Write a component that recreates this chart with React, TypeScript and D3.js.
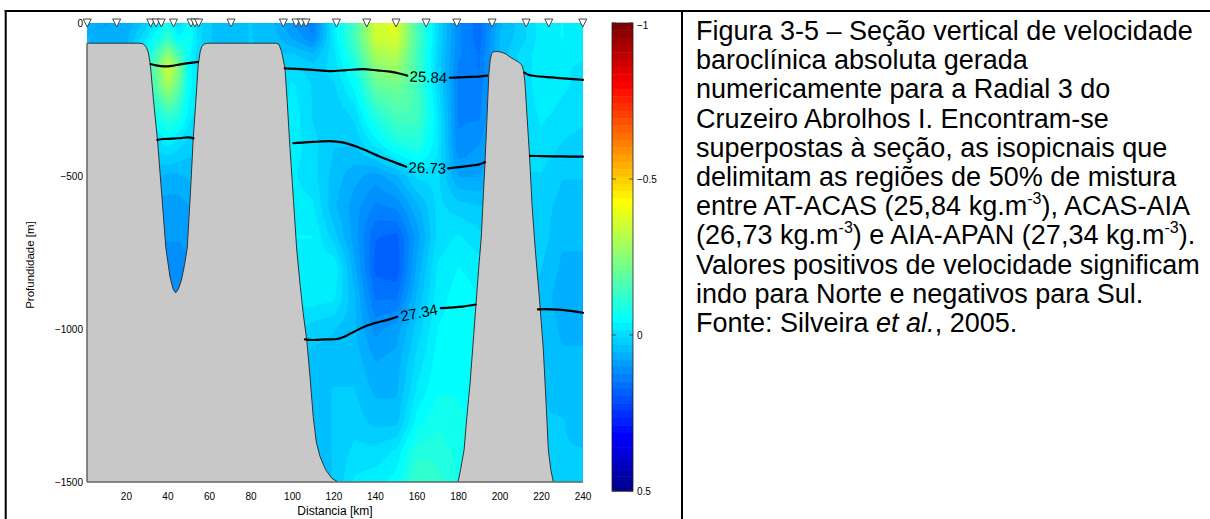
import React, { useMemo } from "react";
import * as d3 from "d3";

// ---- velocity section readings (m/s), rows = depth levels, columns = distance stations
const gridKm = [0, 10, 20, 30, 35, 40, 45, 50, 55, 60, 70, 80, 90, 100, 110, 120, 130, 140, 150, 160, 170, 180, 190, 200, 210, 220, 230, 240];
const gridDepth = [0, 50, 100, 150, 200, 300, 400, 500, 600, 700, 800, 900, 1000, 1100, 1200, 1300, 1400, 1500];
const velocity = [
  [0.06, 0.08, 0.07, 0.02, -0.02, -0.08, 0.01, -0.05, 0.0, 0.03, 0.04, 0.03, 0.05, 0.1, 0.14, -0.03, -0.15, -0.36, -0.38, -0.15, 0.0, 0.12, 0.16, 0.06, 0.02, -0.03, -0.04, -0.02],
  [0.05, 0.07, 0.06, -0.02, -0.07, -0.13, -0.05, -0.07, 0.0, 0.03, 0.04, 0.03, 0.04, 0.08, 0.12, -0.02, -0.15, -0.35, -0.37, -0.16, 0.0, 0.12, 0.16, 0.05, 0.02, -0.03, -0.04, -0.03],
  [0.05, 0.06, 0.05, -0.06, -0.15, -0.26, -0.15, -0.05, 0.0, 0.03, 0.03, 0.03, 0.03, 0.03, 0.05, -0.01, -0.12, -0.3, -0.32, -0.15, 0.01, 0.12, 0.15, 0.05, 0.0, -0.03, -0.03, -0.02],
  [0.05, 0.05, 0.05, -0.1, -0.22, -0.36, -0.25, -0.06, 0.0, 0.03, 0.03, 0.03, 0.02, 0.0, 0.02, 0.0, -0.08, -0.25, -0.28, -0.15, 0.01, 0.13, 0.15, 0.05, 0.0, -0.03, -0.02, -0.01],
  [0.05, 0.05, 0.05, -0.1, -0.2, -0.3, -0.2, -0.06, 0.0, 0.03, 0.03, 0.03, 0.02, -0.02, 0.01, 0.01, -0.05, -0.2, -0.22, -0.15, 0.0, 0.13, 0.14, 0.05, 0.0, -0.03, -0.02, -0.01],
  [0.05, 0.05, 0.05, -0.05, -0.08, -0.13, -0.1, -0.03, 0.0, 0.03, 0.03, 0.03, 0.02, -0.03, 0.01, 0.03, 0.0, -0.1, -0.16, -0.15, -0.02, 0.13, 0.13, 0.05, 0.0, -0.02, -0.01, 0.0],
  [0.05, 0.05, 0.05, 0.0, 0.0, -0.02, 0.0, 0.02, 0.02, 0.03, 0.03, 0.03, 0.02, -0.03, 0.0, 0.03, 0.03, -0.02, -0.08, -0.1, -0.02, 0.12, 0.1, 0.05, 0.0, -0.01, 0.01, 0.02],
  [0.05, 0.05, 0.05, 0.05, 0.05, 0.06, 0.06, 0.05, 0.03, 0.03, 0.03, 0.03, 0.02, -0.02, 0.0, 0.04, 0.07, 0.09, 0.06, 0.0, 0.0, 0.08, 0.08, 0.05, 0.01, 0.01, 0.03, 0.03],
  [0.05, 0.05, 0.05, 0.08, 0.09, 0.09, 0.09, 0.08, 0.05, 0.03, 0.03, 0.03, 0.02, -0.03, -0.02, 0.05, 0.09, 0.13, 0.12, 0.06, 0.0, 0.02, 0.03, 0.03, 0.02, 0.02, 0.04, 0.04],
  [0.05, 0.05, 0.05, 0.1, 0.1, 0.1, 0.1, 0.1, 0.05, 0.03, 0.03, 0.03, 0.02, -0.04, -0.04, 0.02, 0.09, 0.17, 0.18, 0.09, 0.0, -0.02, 0.0, 0.02, 0.02, 0.02, 0.05, 0.05],
  [0.05, 0.05, 0.05, 0.1, 0.11, 0.11, 0.11, 0.1, 0.05, 0.03, 0.03, 0.03, 0.02, -0.03, -0.02, -0.04, 0.07, 0.18, 0.19, 0.07, -0.02, -0.04, -0.03, 0.02, 0.02, 0.03, 0.06, 0.06],
  [0.05, 0.05, 0.05, 0.1, 0.11, 0.11, 0.11, 0.1, 0.05, 0.03, 0.03, 0.03, 0.02, -0.02, -0.03, -0.02, 0.05, 0.15, 0.15, 0.05, -0.03, -0.05, -0.04, 0.02, 0.03, 0.04, 0.07, 0.06],
  [0.05, 0.05, 0.05, 0.1, 0.1, 0.1, 0.1, 0.1, 0.05, 0.03, 0.03, 0.03, 0.02, 0.0, 0.02, 0.03, 0.05, 0.11, 0.09, 0.02, -0.04, -0.05, -0.04, 0.02, 0.03, 0.03, 0.06, 0.06],
  [0.05, 0.05, 0.05, 0.1, 0.1, 0.1, 0.1, 0.1, 0.05, 0.03, 0.03, 0.03, 0.02, 0.02, 0.04, 0.04, 0.04, 0.08, 0.07, 0.0, -0.05, -0.05, -0.04, 0.02, 0.03, 0.03, 0.05, 0.05],
  [0.05, 0.05, 0.05, 0.1, 0.1, 0.1, 0.1, 0.1, 0.05, 0.03, 0.03, 0.03, 0.02, 0.03, 0.04, 0.03, 0.03, 0.06, 0.06, -0.02, -0.06, -0.06, -0.05, 0.02, 0.03, 0.03, 0.04, 0.04],
  [0.05, 0.05, 0.05, 0.1, 0.1, 0.1, 0.1, 0.1, 0.05, 0.03, 0.03, 0.03, 0.02, 0.03, 0.04, 0.03, 0.02, 0.04, 0.04, -0.05, -0.08, -0.07, -0.05, 0.02, 0.03, 0.03, 0.03, 0.04],
  [0.05, 0.05, 0.05, 0.1, 0.1, 0.1, 0.1, 0.1, 0.05, 0.03, 0.03, 0.03, 0.02, 0.03, 0.04, 0.03, 0.0, 0.0, -0.02, -0.1, -0.1, -0.08, -0.05, 0.02, 0.03, 0.03, 0.03, 0.03],
  [0.05, 0.05, 0.05, 0.1, 0.1, 0.1, 0.1, 0.1, 0.05, 0.03, 0.03, 0.03, 0.02, 0.03, 0.04, 0.03, -0.02, -0.03, -0.05, -0.14, -0.12, -0.08, -0.05, 0.02, 0.03, 0.03, 0.02, 0.03],
];

// CTD stations along the section (km)
const stationKm = [1.1, 15.3, 31.7, 34.3, 36.8, 42.7, 51.1, 53.0, 54.8, 70.4, 95.6, 101.7, 104.3, 106.5, 121.2, 135.8, 149.9, 164.4, 179.2, 196.2, 212.6, 223.5, 239.9];

// bottom profile (km, depth m)
const bottomKm = [0, 26, 28, 29.5, 30.5, 31.5, 33, 35, 37, 39, 41, 42.5, 43.7, 45, 46.5, 48, 49.3, 50.8, 52.2, 53.5, 54.6, 55.5, 56.3, 57.5, 59, 92, 93.5, 94.8, 96.4, 97.5, 98.8, 100.5, 102, 103.6, 105.2, 106.9, 108.5, 110, 111.5, 113.3, 116, 119, 122, 123.5, 179, 179.8, 181, 182.7, 184, 185.6, 187, 188.5, 190, 191, 192, 192.8, 193.8, 194.6, 195.3, 196, 197, 199, 201, 203, 205, 207, 209, 210.5, 211.3, 212, 213, 214.2, 215.5, 217, 219, 220.9, 222.2, 223.3, 224.5, 225.7, 226.5, 240];
const bottomDepth = [66, 66, 68, 78, 95, 135, 250, 385, 560, 735, 830, 870, 882, 870, 840, 790, 735, 560, 376, 250, 137, 95, 77, 69, 66, 66, 70, 94, 148, 260, 408, 580, 735, 850, 950, 1036, 1160, 1286, 1370, 1417, 1460, 1488, 1500, 1512, 1512, 1500, 1460, 1395, 1290, 1177, 1050, 915, 780, 700, 560, 453, 300, 170, 120, 99, 94, 93, 96, 102, 112, 120, 128, 137, 155, 192, 300, 431, 600, 740, 900, 1068, 1240, 1395, 1460, 1500, 1512, 1512];

// isopycnals (km, depth m), split where the bottom or a label interrupts them
const iso2584 = [
  [[31.6, 134], [34, 138], [38, 142], [42, 140], [46, 135], [50, 131], [54.5, 127]],
  [[96.3, 148], [100, 149], [110, 153], [118, 157], [126, 154], [134, 151], [141, 155], [147, 159], [152, 166], [155.3, 172]],
  [[175.8, 179], [180, 178], [186, 176], [190, 175], [193.8, 172]],
  [[211.8, 162], [214, 170], [218, 174], [225, 178], [232, 182], [240, 186]],
];
const iso2673 = [
  [[34.9, 382], [38, 379], [42, 378], [46, 376], [50, 374], [52.3, 377]],
  [[100.4, 393], [106, 390], [112, 388], [118, 386], [124, 390], [130, 402], [136, 418], [142, 436], [148, 452], [154.8, 470]],
  [[175, 475], [180, 471], [186, 466], [190, 462], [192.8, 455]],
  [[214.4, 434], [220, 435], [230, 436], [240, 437]],
];
const iso2734 = [
  [[106, 1034], [110, 1036], [116, 1034], [122, 1032], [128, 1015], [134, 994], [140, 980], [146, 970], [150.5, 960]],
  [[171.5, 932], [176, 930], [182, 927], [188.3, 920]],
  [[218.3, 936], [222, 935], [228, 937], [234, 941], [240, 947]],
];
const isoLabels = [
  { text: "25.84", km: 165.5, depth: 176, from: [155.3, 172], to: [175.8, 179] },
  { text: "26.73", km: 165, depth: 473, from: [154.8, 470], to: [175, 475] },
  { text: "27.34", km: 161, depth: 946, from: [150.5, 960], to: [171.5, 932] },
];

const xTicks = [20, 40, 60, 80, 100, 120, 140, 160, 180, 200, 220, 240];
const yTicks = [0, -500, -1000, -1500];
const cbTicks = [-1, -0.5, 0, 0.5];

type Seg = { t: string; sup?: boolean; it?: boolean };
const captionLines: Seg[][] = [
  [{ t: "Figura 3-5 – Seção vertical de velocidade" }],
  [{ t: "baroclínica absoluta gerada" }],
  [{ t: "numericamente para a Radial 3 do" }],
  [{ t: "Cruzeiro Abrolhos I. Encontram-se" }],
  [{ t: "superpostas à seção, as isopicnais que" }],
  [{ t: "delimitam as regiões de 50% de mistura" }],
  [{ t: "entre AT-ACAS (25,84 kg.m" }, { t: "-3", sup: true }, { t: "), ACAS-AIA" }],
  [{ t: "(26,73 kg.m" }, { t: "-3", sup: true }, { t: ") e AIA-APAN (27,34 kg.m" }, { t: "-3", sup: true }, { t: ")." }],
  [{ t: "Valores positivos de velocidade significam" }],
  [{ t: "indo para Norte e negativos para Sul." }],
  [{ t: "Fonte: Silveira " }, { t: "et al.", it: true }, { t: ", 2005." }],
];

// MATLAB-style jet colormap with m entries
function jet(m: number): string[] {
  const n = Math.ceil(m / 4);
  const u: number[] = [];
  for (let i = 1; i <= n; i++) u.push(i / n);
  for (let i = 1; i < n; i++) u.push(1);
  for (let i = n; i >= 1; i--) u.push(i / n);
  const g0 = Math.ceil(n / 2) - (m % 4 === 1 ? 1 : 0);
  const J = Array.from({ length: m }, () => [0, 0, 0]);
  u.forEach((val, k) => {
    const g = g0 + k + 1;
    const r = g + n;
    const b = g - n;
    if (g >= 1 && g <= m) J[g - 1][1] = val;
    if (r >= 1 && r <= m) J[r - 1][0] = val;
    if (b >= 1 && b <= m) J[b - 1][2] = val;
  });
  return J.map(([r, g, b]) => d3.rgb(r * 255, g * 255, b * 255).formatHex());
}

const NC = 64;
const VMIN = -1;
const VMAX = 0.5;
const colors = jet(NC);
// high (positive) values are blue, low (negative) values red
const colorIndex = (v: number) => Math.max(0, Math.min(NC - 1, Math.floor(((VMAX - v) / (VMAX - VMIN)) * NC)));

function sampleVelocity(km: number, dep: number) {
  const i = Math.max(0, Math.min(gridKm.length - 2, d3.bisectRight(gridKm, km) - 1));
  const j = Math.max(0, Math.min(gridDepth.length - 2, d3.bisectRight(gridDepth, dep) - 1));
  const tx = Math.max(0, Math.min(1, (km - gridKm[i]) / (gridKm[i + 1] - gridKm[i])));
  const ty = Math.max(0, Math.min(1, (dep - gridDepth[j]) / (gridDepth[j + 1] - gridDepth[j])));
  return (
    (1 - tx) * (1 - ty) * velocity[j][i] +
    tx * (1 - ty) * velocity[j][i + 1] +
    (1 - tx) * ty * velocity[j + 1][i] +
    tx * ty * velocity[j + 1][i + 1]
  );
}

const FONT = "'Liberation Sans', Arial, Helvetica, sans-serif";

export default function App() {
  const x = d3.scaleLinear().domain([1, 240]).range([87, 583]);
  const y = d3.scaleLinear().domain([0, -1500]).range([23, 482]);
  const cb = d3.scaleLinear().domain([VMIN, VMAX]).range([23, 491]);

  const bands = useMemo(() => {
    const nx = 480;
    const ny = 300;
    const dkm = 240 / nx;
    const dz = 1500 / ny;
    const values = new Float64Array(nx * ny);
    for (let j = 0; j < ny; j++) {
      for (let i = 0; i < nx; i++) {
        values[j * nx + i] = sampleVelocity((i + 0.5) * dkm, (j + 0.5) * dz);
      }
    }
    const step = (VMAX - VMIN) / NC;
    const thresholds = d3.range(NC).map((k) => VMIN + k * step);
    const contours = d3.contours().size([nx, ny]).thresholds(thresholds)(Array.from(values));
    const proj = d3.geoTransform({
      point(px: number, py: number) {
        (this as any).stream.point(x(px * dkm), y(-py * dz));
      },
    });
    const path = d3.geoPath(proj);
    return contours.map((c, k) => ({ d: path(c as any) || "", fill: colors[NC - 1 - k] }));
  }, []);

  const bottomPts = bottomKm.map((k, i) => [k, bottomDepth[i]] as [number, number]);
  const topoArea = d3
    .area<[number, number]>()
    .x((d) => x(d[0]))
    .y0(y(-1700))
    .y1((d) => y(-d[1]))(bottomPts) as string;
  const topoLine = d3
    .line<[number, number]>()
    .x((d) => x(d[0]))
    .y((d) => y(-d[1]))(bottomPts) as string;

  const isoLine = d3
    .line<number[]>()
    .x((d) => x(d[0]))
    .y((d) => y(-d[1]))
    .curve(d3.curveCatmullRom.alpha(0.5));

  const plotL = x(1);
  const plotR = x(240);
  const plotT = y(0);
  const plotB = y(-1500);

  const cbL = 612;
  const cbR = 633;

  return (
    <svg width={1210} height={519} style={{ display: "block", position: "absolute", left: 0, top: 0 }} fontFamily={FONT}>
      <rect x={0} y={0} width={1210} height={519} fill="#fff" />
      <defs>
        <clipPath id="plotClip">
          <rect x={plotL} y={plotT} width={plotR - plotL} height={plotB - plotT} />
        </clipPath>
      </defs>

      {/* velocity field */}
      <g clipPath="url(#plotClip)">
        {bands.map((b, i) => (
          <path key={i} d={b.d} fill={b.fill} stroke={b.fill} strokeWidth={0.4} />
        ))}
        {/* bottom topography */}
        <path d={topoArea} fill="#c8c8c8" />
        <path d={topoLine} fill="none" stroke="#333" strokeWidth={1} />
      </g>

      {/* isopycnals */}
      <g fill="none" stroke="#000" strokeWidth={2.2} strokeLinejoin="round" strokeLinecap="round">
        {[...iso2584, ...iso2673, ...iso2734].map((seg, i) => (
          <path key={i} d={isoLine(seg) as string} />
        ))}
      </g>
      <g fontSize={15} fill="#000">
        {isoLabels.map((l) => {
          const ang =
            (Math.atan2(y(-l.to[1]) - y(-l.from[1]), x(l.to[0]) - x(l.from[0])) * 180) / Math.PI;
          return (
            <text
              key={l.text}
              x={x(l.km)}
              y={y(-l.depth)}
              textAnchor="middle"
              dominantBaseline="central"
              transform={`rotate(${ang.toFixed(1)},${x(l.km)},${y(-l.depth)})`}
            >
              {l.text}
            </text>
          );
        })}
      </g>

      {/* axis lines */}
      <line x1={plotL} x2={plotL} y1={y(-66)} y2={plotB} stroke="#666" strokeWidth={1.5} />
      <line x1={plotL} x2={plotR} y1={plotB} y2={plotB} stroke="#666" strokeWidth={1.5} />

      {/* station markers */}
      {stationKm.map((k, i) => (
        <path
          key={i}
          d={`M${x(k) - 4},${plotT - 4} L${x(k) + 4},${plotT - 4} L${x(k)},${plotT + 4} Z`}
          fill="#fff"
          stroke="#444"
          strokeWidth={1}
        />
      ))}

      {/* tick labels */}
      <g fontSize={10} fill="#000">
        {xTicks.map((t) => (
          <text key={t} x={x(t)} y={500} textAnchor="middle">
            {t}
          </text>
        ))}
        {yTicks.map((t) => (
          <text key={t} x={plotL - 4} y={y(t)} textAnchor="end" dominantBaseline="central">
            {t === 0 ? "0" : `\u2212${Math.abs(t)}`}
          </text>
        ))}
      </g>
      <text x={(plotL + plotR) / 2} y={515} textAnchor="middle" fontSize={12}>
        Distancia [km]
      </text>
      <text x={34} y={265} textAnchor="middle" fontSize={11.5} transform="rotate(-90,34,265)">
        Profundidade [m]
      </text>

      {/* colorbar */}
      {d3.range(NC).map((k) => {
        const v0 = VMIN + (k * (VMAX - VMIN)) / NC;
        const v1 = VMIN + ((k + 1) * (VMAX - VMIN)) / NC;
        return (
          <rect
            key={k}
            x={cbL}
            y={cb(v0)}
            width={cbR - cbL}
            height={cb(v1) - cb(v0) + 0.5}
            fill={colors[colorIndex((v0 + v1) / 2)]}
          />
        );
      })}
      <rect x={cbL} y={cb(VMIN)} width={cbR - cbL} height={cb(VMAX) - cb(VMIN)} fill="none" stroke="#222" strokeWidth={0.8} />
      {cbTicks.map((t) => (
        <g key={t}>
          <line x1={cbL} x2={cbL + 4} y1={cb(t)} y2={cb(t)} stroke="#333" strokeWidth={0.8} />
          <line x1={cbR - 4} x2={cbR} y1={cb(t)} y2={cb(t)} stroke="#333" strokeWidth={0.8} />
          <text x={cbR + 4} y={cb(t) + (t === VMIN ? 2 : 0)} fontSize={10} dominantBaseline="central">
            {t < 0 ? `\u2212${Math.abs(t)}` : `${t}`}
          </text>
        </g>
      ))}

      {/* frame */}
      <g stroke="#000" strokeWidth={2}>
        <line x1={4.7} x2={1210} y1={11} y2={11} />
        <line x1={5.7} x2={5.7} y1={10} y2={519} />
        <line x1={682} x2={682} y1={10} y2={519} />
      </g>

      {/* caption */}
      <g fontSize={27} fill="#000">
        {captionLines.map((line, i) => (
          <text key={i} x={696} y={40 + i * 29.2}>
            {line.map((s, k) =>
              s.sup ? (
                <tspan key={k} fontSize={16} dy={-11}>
                  {s.t}
                </tspan>
              ) : (
                <tspan key={k} fontStyle={s.it ? "italic" : undefined} dy={k > 0 && line[k - 1].sup ? 11 : 0}>
                  {s.t}
                </tspan>
              )
            )}
          </text>
        ))}
      </g>
    </svg>
  );
}
